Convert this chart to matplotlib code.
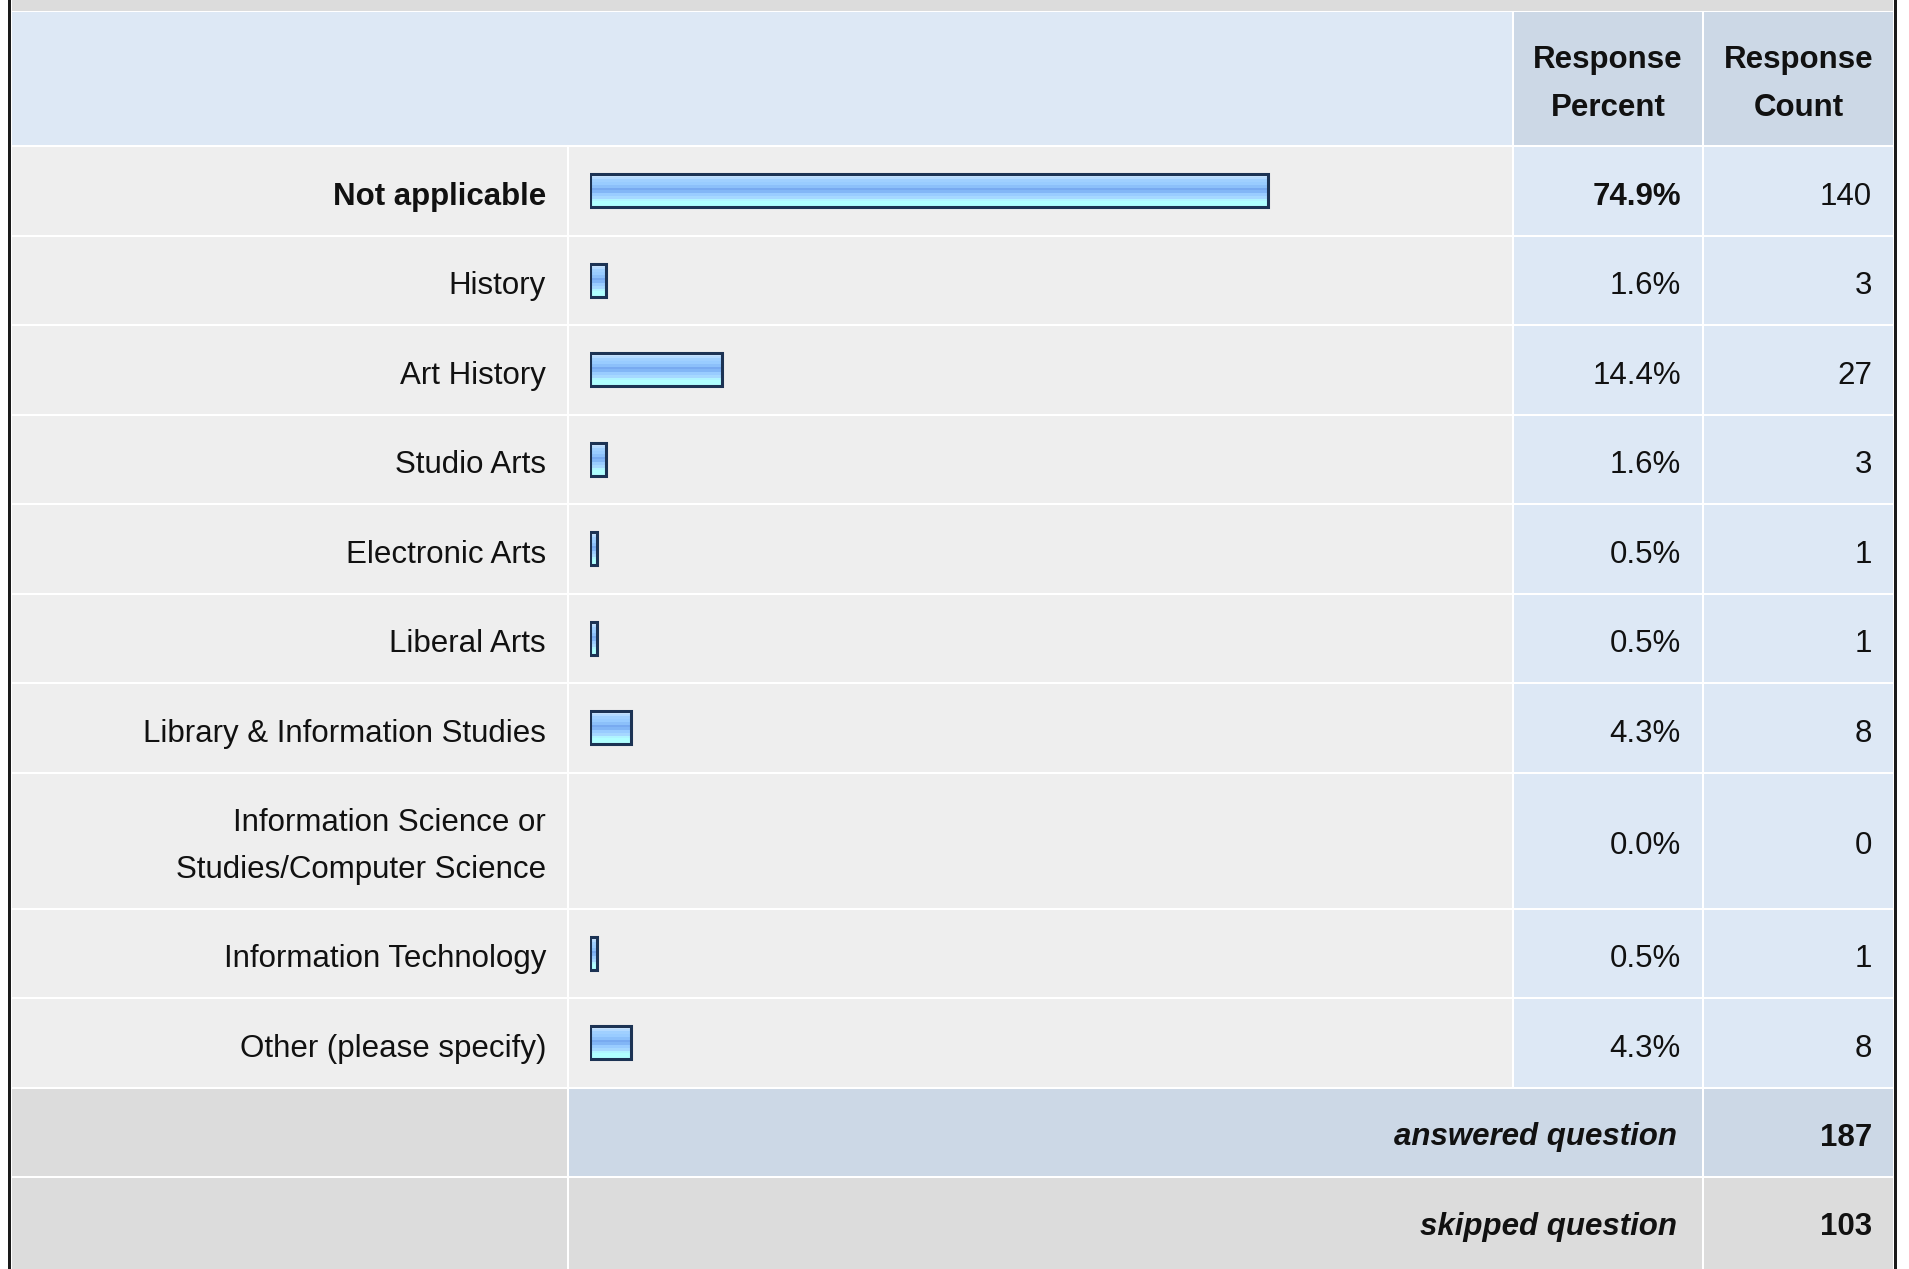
import numpy as np
import matplotlib.pyplot as plt
from matplotlib.patches import Rectangle
from matplotlib.colors import to_rgb

# survey answers
categories = ['Not applicable', 'History', 'Art History', 'Studio Arts',
              'Electronic Arts', 'Liberal Arts', 'Library & Information Studies',
              'Information Science or\nStudies/Computer Science',
              'Information Technology', 'Other (please specify)']
percents = [74.9, 1.6, 14.4, 1.6, 0.5, 0.5, 4.3, 0.0, 0.5, 4.3]
counts = [140, 3, 27, 3, 1, 1, 8, 0, 1, 8]
answered = 187
skipped = 103

W, H = 1909, 1269
FONT = 'Liberation Sans'
FS = 22.5

LIGHT = '#eeeeee'
BLUE = '#dde8f5'
BLUE_DARK = '#ccd8e6'
GRAY = '#dcdcdc'
NAVY = '#1c3354'

fig = plt.figure(figsize=(W / 100, H / 100), dpi=100)
fig.patch.set_facecolor('white')
ax = fig.add_axes([0, 0, 1, 1])
ax.set_xlim(0, W)
ax.set_ylim(H, 0)
ax.axis('off')

# column edges in pixels
c_lab = (12, 567)
c_bar = (569, 1512)
c_pct = (1514, 1702)
c_cnt = (1704, 1893)


def cell(x, y0, y1, color):
    ax.add_patch(Rectangle((x[0], y0), x[1] - x[0], y1 - y0,
                           facecolor=color, edgecolor='none', zorder=0))


def txt(x, y, s, ha='right', **kw):
    ax.text(x, y, s, ha=ha, va='center', fontsize=FS, family=FONT,
            color='#111111', linespacing=1.75, **kw)


# top band + header
cell((12, 1893), 0, 11, GRAY)
cell((12, 1512), 12, 145, BLUE)
cell(c_pct, 12, 145, BLUE_DARK)
cell(c_cnt, 12, 145, BLUE_DARK)
txt(sum(c_pct) / 2, 84, 'Response\nPercent', ha='center', weight='bold')
txt(sum(c_cnt) / 2, 84, 'Response\nCount', ha='center', weight='bold')

# row layout
pitch = [89.5] * len(categories)
pitch[7] = 136
tops = 147 + np.concatenate([[0], np.cumsum(pitch)])
centers = []
for i, lab in enumerate(categories):
    y0, y1 = tops[i], tops[i + 1] - 2
    yc = (y0 + y1) / 2
    centers.append(yc)
    cell(c_lab, y0, y1, LIGHT)
    cell(c_bar, y0, y1, LIGHT)
    cell(c_pct, y0, y1, BLUE)
    cell(c_cnt, y0, y1, BLUE)
    bold = 'bold' if i == 0 else 'normal'
    txt(546, yc + 6, lab, weight=bold)
    txt(1681, yc + 6, f'{percents[i]:.1f}%', weight=bold)
    txt(1872, yc + 6, str(counts[i]))

# summary rows
y_ans = tops[-1]
cell(c_lab, y_ans, y_ans + 87.5, GRAY)
cell((569, 1702), y_ans, y_ans + 87.5, BLUE_DARK)
cell(c_cnt, y_ans, y_ans + 87.5, BLUE_DARK)
txt(1677, y_ans + 49, 'answered question', weight='bold', style='italic')
txt(1872, y_ans + 49, str(answered), weight='bold')

y_sk = y_ans + 89.5
cell(c_lab, y_sk, H, GRAY)
cell((569, 1702), y_sk, H, GRAY)
cell(c_cnt, y_sk, H, GRAY)
txt(1677, y_sk + 49, 'skipped question', weight='bold', style='italic')
txt(1872, y_sk + 49, str(skipped), weight='bold')

# outer frame
ax.add_patch(Rectangle((8, 0), 3, H, facecolor='#1a1a1a', edgecolor='none'))
ax.add_patch(Rectangle((1894, 0), 3, H, facecolor='#1a1a1a', edgecolor='none'))

# bars: separate axes, x in percent
bx0, bw = 589.5, 903
bax = fig.add_axes([bx0 / W, 0, bw / W, 1])
bax.axis('off')
bh = 33
pad = 2.5 * 100 / bw  # fixed image border, as in the html bar images
grad_cols = ['#c8e4ff', '#b4daff', '#a0d0ff', '#99ccff', '#8cc0fa', '#78aaf0',
             '#82b6f6', '#99ccff', '#a6d8ff', '#b0f4ff', '#b0ffff', '#b0ffff']
grad = np.array([to_rgb(c) for c in grad_cols]).reshape(-1, 1, 3)
shown = [p > 0 for p in percents]
bars = bax.barh([c for c, s in zip(centers, shown) if s],
                [p + pad for p, s in zip(percents, shown) if s],
                height=bh, color='none', edgecolor=NAVY, linewidth=2.2, zorder=3)
for b in bars:
    x0, y0 = b.get_x(), b.get_y()
    bax.imshow(grad, extent=[x0, x0 + b.get_width(), y0 + bh, y0],
               aspect='auto', interpolation='nearest', zorder=2)
bax.set_xlim(0, 100)
bax.set_ylim(H, 0)

fig.savefig('out.png', dpi=100)
